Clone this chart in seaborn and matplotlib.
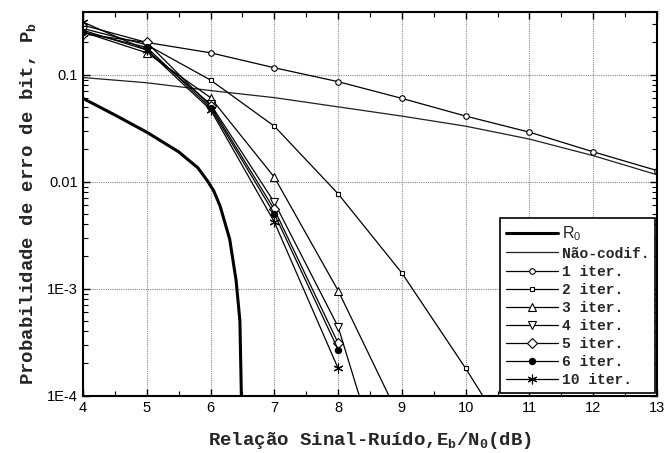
import matplotlib
matplotlib.use("Agg")
import matplotlib.pyplot as plt
import matplotlib.ticker as ticker
from matplotlib.font_manager import FontProperties
import seaborn as sns

# Data
snr = [4, 5, 6, 7, 8, 9, 10, 11, 12, 13]
r0_x = [4, 4.5, 5, 5.5, 5.65, 5.8, 5.95, 6.05, 6.15, 6.3, 6.4, 6.46, 6.5]
r0_y = [0.060, 0.042, 0.029, 0.019, 0.016, 0.0135, 0.0102, 0.0082, 0.0059, 0.0029, 0.0012, 0.0005, 0.00003]
p_uncoded = [0.094, 0.084, 0.071, 0.061, 0.050, 0.041, 0.033, 0.025, 0.0175, 0.0116]
p_1 = [0.29, 0.20, 0.16, 0.116, 0.086, 0.060, 0.041, 0.029, 0.019, 0.0127]
p_2 = [0.27, 0.19, 0.089, 0.033, 0.0077, 0.0014, 0.00018, 0.00002]
p_3 = [0.25, 0.16, 0.061, 0.011, 0.00096, 0.000056]
p_4 = [0.26, 0.17, 0.053, 0.0064, 0.00044, 0.000005]
p_5 = [0.24, 0.20, 0.051, 0.0055, 0.00031]
p_6 = [0.25, 0.18, 0.049, 0.0050, 0.00027]
p_10 = [0.31, 0.17, 0.047, 0.0042, 0.00018]

sns.set_theme(style="ticks")
plt.rcParams.update({
    'font.family': ['Liberation Sans', 'DejaVu Sans'],
    'mathtext.default': 'regular',
    'axes.linewidth': 1.5,
    'xtick.direction': 'in',
    'ytick.direction': 'in',
    'xtick.color': 'black',
    'ytick.color': 'black',
    'axes.edgecolor': 'black',
})

mono = FontProperties(family='Liberation Mono', weight='bold', size=13.7)
mono_leg = FontProperties(family='Liberation Mono', weight='bold', size=10.5)

fig, ax = plt.subplots(figsize=(6.64, 4.53), dpi=100)
fig.subplots_adjust(left=0.125, right=0.9895, top=0.9735, bottom=0.1265)

# R0 and uncoded
sns.lineplot(x=r0_x, y=r0_y, ax=ax, color='black', linewidth=2.2, sort=False, label='R$_0$')
sns.lineplot(x=snr, y=p_uncoded, ax=ax, color='#202020', linewidth=0.9, sort=False, label='Não-codif.')

series = [
    (p_1, '1 iter.', 'o', 4, 'white'),
    (p_2, '2 iter.', 's', 3.5, 'white'),
    (p_3, '3 iter.', '^', 6, 'white'),
    (p_4, '4 iter.', 'v', 6, 'white'),
    (p_5, '5 iter.', 'D', 5, 'white'),
    (p_6, '6 iter.', 'o', 4.5, 'black'),
    (p_10, '10 iter.', (6, 2, 0), 7, 'black'),
]
for vals, name, mk, ms, fc in series:
    sns.lineplot(x=snr[:len(vals)], y=vals, ax=ax, color='black', linewidth=0.9,
                 sort=False, marker=mk, markersize=ms, markerfacecolor=fc,
                 markeredgecolor='black', markeredgewidth=0.8, label=name)

ax.set_yscale('log')
ax.set_xlim(4, 13)
ax.set_ylim(1e-4, 0.385)
ax.set_xticks(snr)
ax.xaxis.set_minor_locator(ticker.MultipleLocator(0.5))
ax.set_yticks([1e-4, 1e-3, 1e-2, 1e-1])
ax.set_yticklabels(['1E-4', '1E-3', '0.01', '0.1'])
ax.yaxis.set_minor_locator(ticker.LogLocator(base=10, subs=range(2, 10)))
ax.yaxis.set_minor_formatter(ticker.NullFormatter())
ax.tick_params(which='both', top=True, right=True, labelsize=10.5)
ax.tick_params(which='major', length=5, width=1)
ax.tick_params(which='minor', length=3.5, width=0.8)
ax.grid(True, which='major', linestyle=(0, (1, 1)), color='#888888', linewidth=0.8)
ax.grid(False, which='minor')

ax.set_xlabel('Relação Sinal-Ruído,E$_b$/N$_0$(dB)', fontproperties=mono, labelpad=11)
ax.set_ylabel('Probabilidade de erro de bit, P$_b$', fontproperties=mono, labelpad=7)

handles, labels = ax.get_legend_handles_labels()
leg = ax.legend(handles, labels, loc='lower right', bbox_to_anchor=(0.997, 0.007),
                borderaxespad=0, frameon=True, fancybox=False, edgecolor='black',
                prop=mono_leg, handlelength=3.6, labelspacing=0.28, borderpad=0.4,
                handletextpad=0.25)
leg.get_frame().set_linewidth(1.2)
leg.get_frame().set_alpha(1)
leg.get_texts()[0].set_fontproperties(FontProperties(family='Liberation Sans', size=11.5))

fig.savefig('out.png', dpi=100)
